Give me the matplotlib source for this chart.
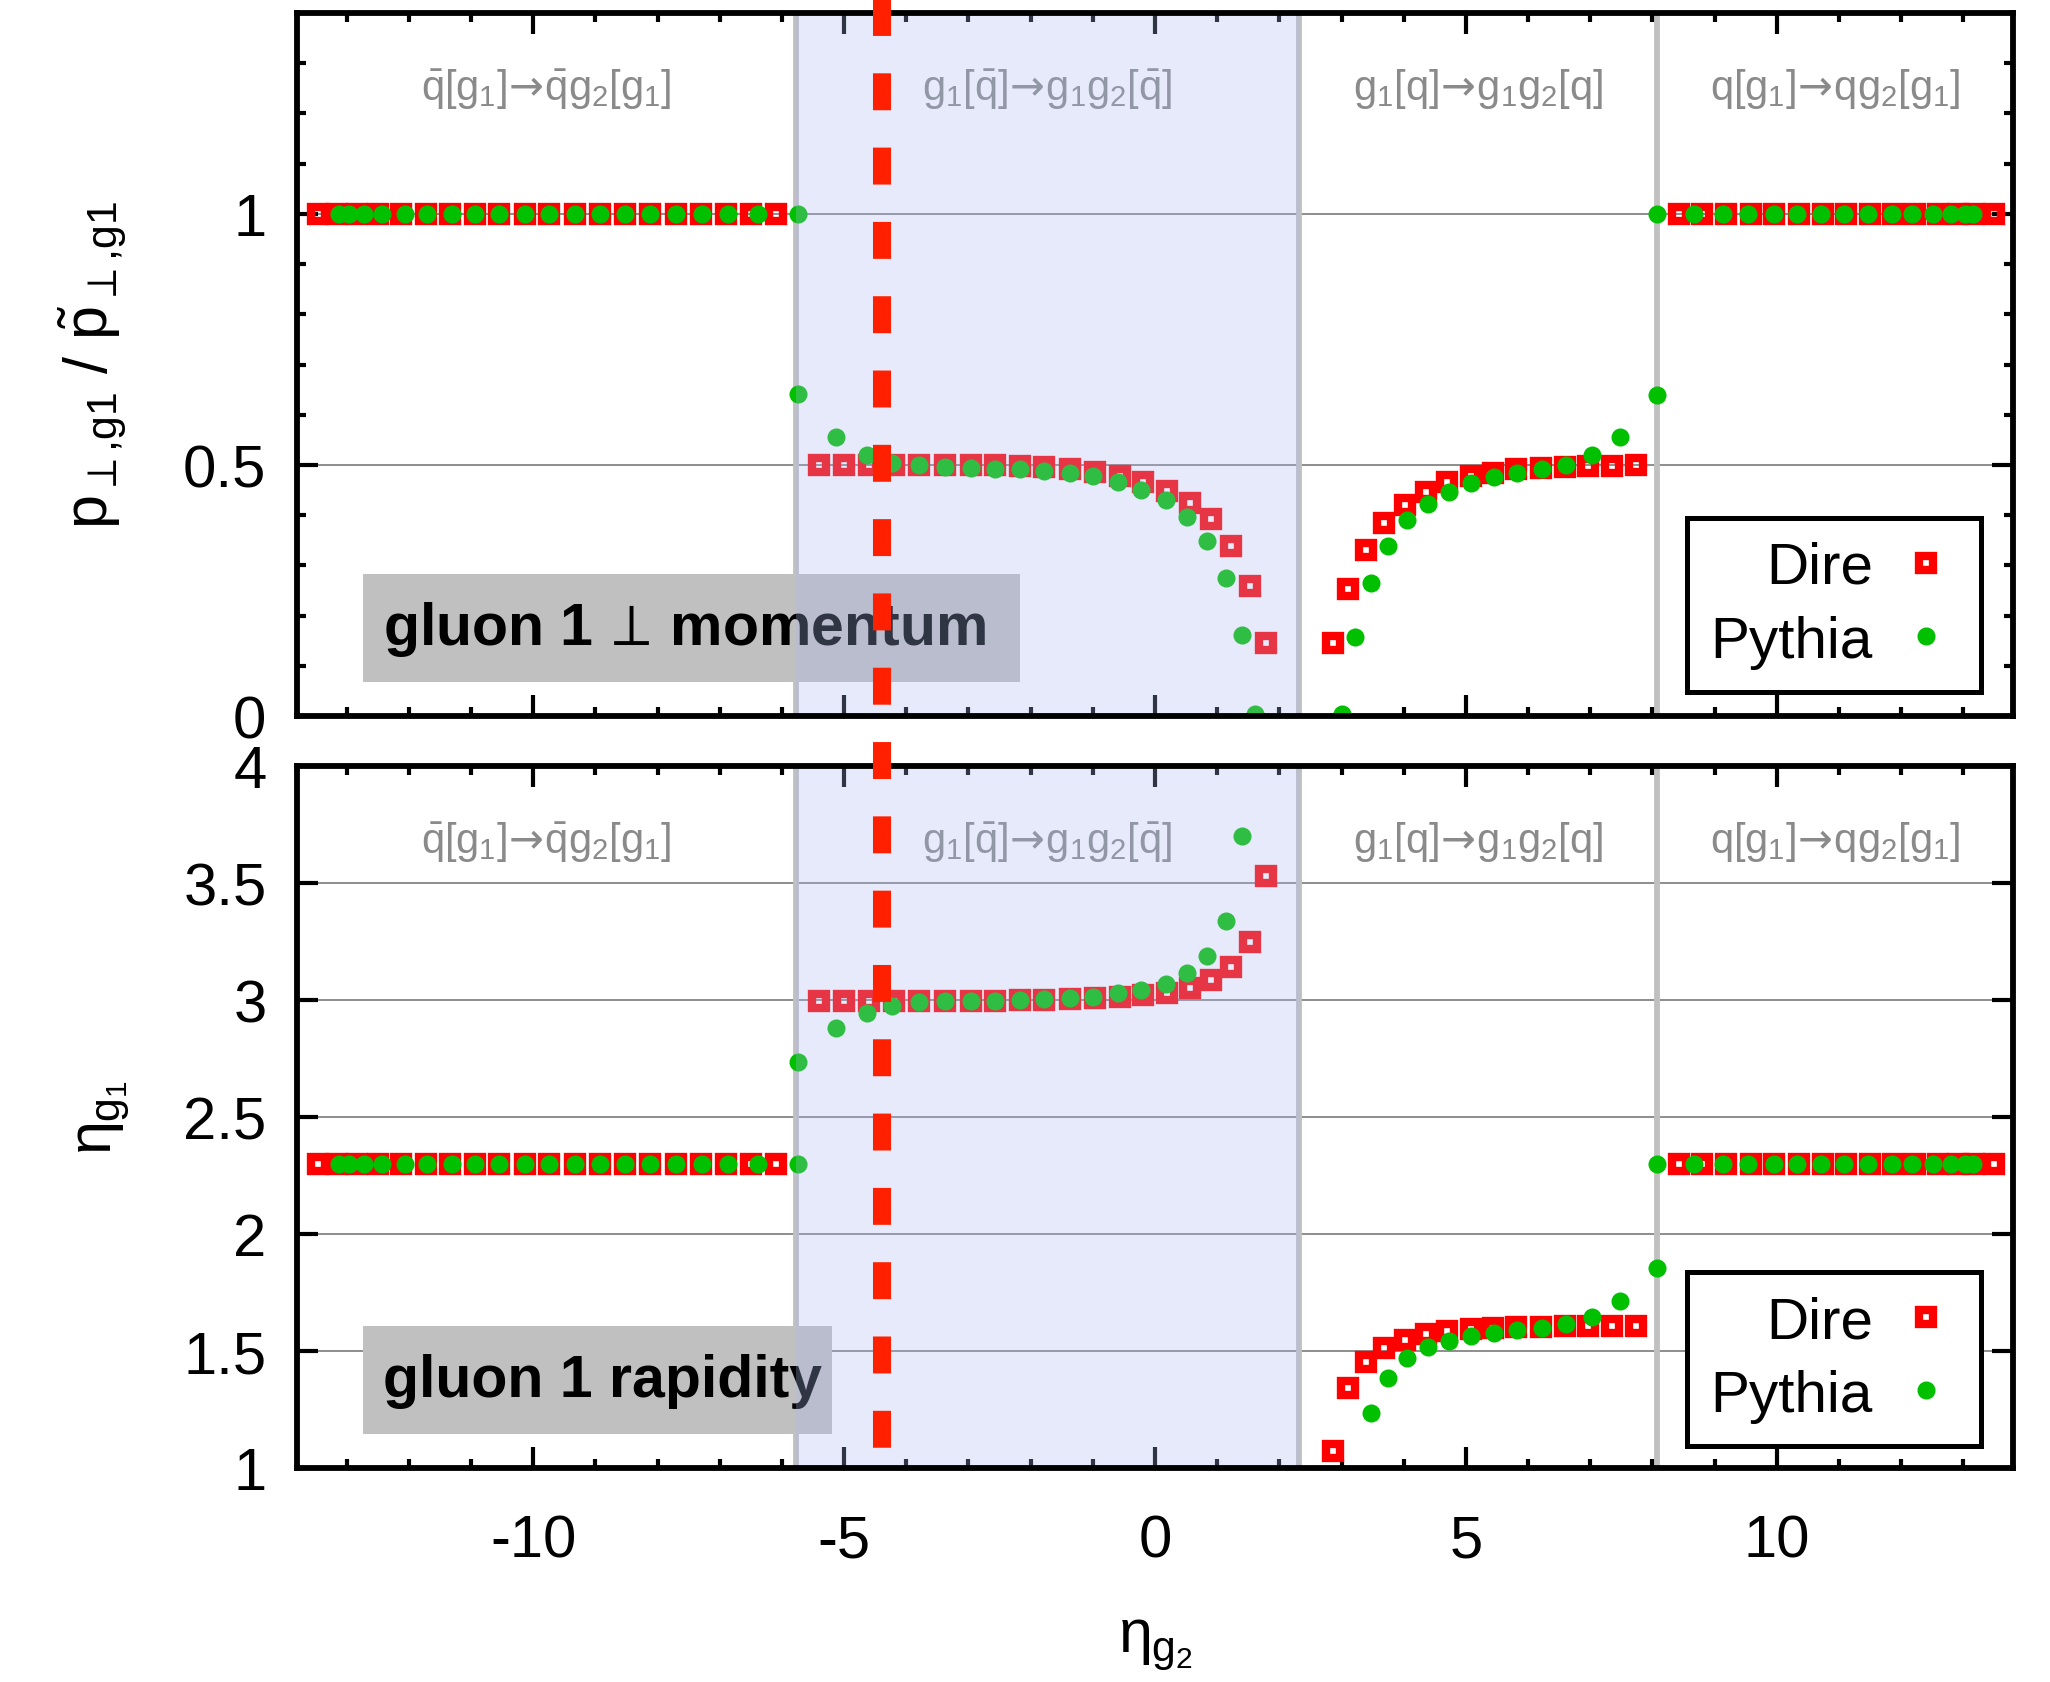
import matplotlib
matplotlib.use("Agg")
import numpy as np
import matplotlib.pyplot as plt
import matplotlib.transforms as mtransforms
from matplotlib.lines import Line2D
from matplotlib.patches import Rectangle
from matplotlib.ticker import FixedLocator, MultipleLocator

plt.rcParams.update({
    "font.family": ["Liberation Sans", "DejaVu Sans"],
    "mathtext.fontset": "custom",
    "mathtext.rm": "Liberation Sans",
    "mathtext.it": "Liberation Sans",
    "mathtext.bf": "Liberation Sans:bold",
    "mathtext.sf": "DejaVu Sans",
    "mathtext.fallback": "stixsans",
    "axes.unicode_minus": False,
    "lines.scale_dashes": False,
})

nan = np.nan

# ---------------- data ----------------
dire_eta2 = [-13.46, -13.16, -12.84, -12.50, -12.12, -11.73, -11.34, -10.94, -10.55, -10.14,
             -9.74, -9.33, -8.93, -8.52, -8.12, -7.71, -7.31, -6.90, -6.49, -6.09,
             -5.41, -5.00, -4.60, -4.19, -3.79, -3.38, -2.96, -2.57, -2.17, -1.78,
             -1.36, -0.96, -0.57, -0.20, 0.20, 0.57, 0.90, 1.22, 1.53, 1.79,
             2.86, 3.11, 3.39, 3.69, 4.02, 4.36, 4.70, 5.08, 5.44, 5.81,
             6.21, 6.59, 6.97, 7.35, 7.73,
             8.43, 8.80, 9.19, 9.58, 9.96, 10.35, 10.74, 11.12, 11.50, 11.87,
             12.23, 12.59, 12.91, 13.18, 13.50]
dire_ratio = [1.0, 1.0, 1.0, 1.0, 1.0, 1.0, 1.0, 1.0, 1.0, 1.0,
              1.0, 1.0, 1.0, 1.0, 1.0, 1.0, 1.0, 1.0, 1.0, 1.0,
              0.499, 0.499, 0.499, 0.499, 0.499, 0.499, 0.499, 0.499, 0.497, 0.495,
              0.491, 0.486, 0.478, 0.466, 0.449, 0.425, 0.392, 0.338, 0.258, 0.145,
              0.145, 0.253, 0.331, 0.385, 0.420, 0.447, 0.466, 0.478, 0.484, 0.491,
              0.494, 0.496, 0.497, 0.498, 0.499,
              1.0, 1.0, 1.0, 1.0, 1.0, 1.0, 1.0, 1.0, 1.0, 1.0,
              1.0, 1.0, 1.0, 1.0, 1.0]
dire_eta1 = [2.3, 2.3, 2.3, 2.3, 2.3, 2.3, 2.3, 2.3, 2.3, 2.3,
             2.3, 2.3, 2.3, 2.3, 2.3, 2.3, 2.3, 2.3, 2.3, 2.3,
             2.995, 2.995, 2.995, 2.997, 2.997, 2.997, 2.997, 2.997, 2.999, 3.001,
             3.004, 3.007, 3.013, 3.020, 3.030, 3.053, 3.084, 3.142, 3.250, 3.529,
             1.071, 1.344, 1.454, 1.514, 1.547, 1.572, 1.584, 1.594, 1.599, 1.603,
             1.603, 1.605, 1.605, 1.605, 1.605,
             2.3, 2.3, 2.3, 2.3, 2.3, 2.3, 2.3, 2.3, 2.3, 2.3,
             2.3, 2.3, 2.3, 2.3, 2.3]

pythia_eta2 = [-13.12, -12.97, -12.73, -12.43, -12.07, -11.71, -11.31, -10.94, -10.55, -10.14,
               -9.74, -9.33, -8.93, -8.52, -8.12, -7.71, -7.29, -6.86, -6.38, -5.75,
               -5.75, -5.13, -4.64, -4.23, -3.79, -3.38, -2.96, -2.57, -2.17, -1.78,
               -1.36, -0.99, -0.59, -0.22, 0.17, 0.51, 0.83, 1.14, 1.40, 1.61,
               3.00, 3.22, 3.47, 3.75, 4.06, 4.39, 4.73, 5.08, 5.45, 5.83,
               6.22, 6.61, 7.03, 7.48, 8.08,
               8.08, 8.67, 9.14, 9.54, 9.95, 10.33, 10.71, 11.08, 11.47, 11.85,
               12.18, 12.52, 12.80, 13.02, 13.15]
pythia_ratio = [1.0, 1.0, 1.0, 1.0, 1.0, 1.0, 1.0, 1.0, 1.0, 1.0,
                1.0, 1.0, 1.0, 1.0, 1.0, 1.0, 1.0, 1.0, 1.0, 1.0,
                0.642, 0.555, 0.520, 0.503, 0.499, 0.496, 0.494, 0.492, 0.491, 0.487,
                0.484, 0.478, 0.466, 0.451, 0.431, 0.397, 0.348, 0.274, 0.162, 0.004,
                0.004, 0.158, 0.265, 0.338, 0.390, 0.423, 0.447, 0.464, 0.475, 0.484,
                0.492, 0.500, 0.519, 0.555, 0.640,
                1.0, 1.0, 1.0, 1.0, 1.0, 1.0, 1.0, 1.0, 1.0, 1.0,
                1.0, 1.0, 1.0, 1.0, 1.0]
pythia_eta1 = [2.3, 2.3, 2.3, 2.3, 2.3, 2.3, 2.3, 2.3, 2.3, 2.3,
               2.3, 2.3, 2.3, 2.3, 2.3, 2.3, 2.3, 2.3, 2.3, 2.3,
               2.736, 2.881, 2.945, 2.976, 2.991, 2.995, 2.997, 2.997, 2.999, 3.003,
               3.007, 3.013, 3.028, 3.042, 3.069, 3.115, 3.189, 3.338, 3.701, nan,
               nan, nan, 1.236, 1.385, 1.468, 1.516, 1.543, 1.564, 1.578, 1.588,
               1.599, 1.615, 1.646, 1.712, 1.853,
               2.3, 2.3, 2.3, 2.3, 2.3, 2.3, 2.3, 2.3, 2.3, 2.3,
               2.3, 2.3, 2.3, 2.3, 2.3]

region_edges = [-5.77, 2.31, 8.08]
highlight_range = (-5.77, 2.31)
split_eta2 = -4.39
region_centers = [-9.79, -1.73, 5.20, 10.94]
ARROW = r"\!\mathsf{\rightarrow}\!"
region_labels = [r"$\bar{q}[g_1]" + ARROW + r"\bar{q}g_2[g_1]$",
                 r"$g_1[\bar{q}]" + ARROW + r"g_1g_2[\bar{q}]$",
                 r"$g_1[q]" + ARROW + r"g_1g_2[q]$",
                 r"$q[g_1]" + ARROW + r"qg_2[g_1]$"]

x_major = [-10, -5, 0, 5, 10]
x_major_labels = ["-10", "-5", "0", "5", "10"]
top_yticks = [0, 0.5, 1]
top_ylabels = ["0", "0.5", "1"]
bot_yticks = [1, 1.5, 2, 2.5, 3, 3.5, 4]
bot_ylabels = ["1", "1.5", "2", "2.5", "3", "3.5", "4"]

# ---------------- figure ----------------
W, H = 2050, 1683
fig = plt.figure(figsize=(W / 100, H / 100), dpi=100)
ax_top = fig.add_axes([297 / W, 1 - 717 / H, 1716 / W, 703 / H])
ax_bot = fig.add_axes([297 / W, 1 - 1469 / H, 1716 / W, 702 / H], sharex=ax_top)

TICK_FS = 43
RED = "#ff0000"
GREEN = "#00c000"


def style_axes(ax, yticks, ylabels, minor_y):
    ax.set_xlim(-13.8, 13.8)
    ax.xaxis.set_major_locator(FixedLocator(x_major))
    ax.xaxis.set_minor_locator(MultipleLocator(1))
    ax.yaxis.set_major_locator(FixedLocator(yticks))
    ax.set_yticklabels(ylabels)
    if minor_y:
        ax.yaxis.set_minor_locator(MultipleLocator(0.1))
    ax.tick_params(which="both", direction="in", top=True, right=True,
                   width=3, color="black", labelsize=TICK_FS)
    ax.tick_params(which="major", length=15)
    ax.tick_params(which="minor", length=6.5)
    ax.tick_params(axis="x", pad=33)
    ax.tick_params(axis="y", pad=22)
    for sp in ax.spines.values():
        sp.set_linewidth(4.2)
        sp.set_zorder(6)
    ax.set_facecolor("white")


style_axes(ax_top, top_yticks, top_ylabels, True)
style_axes(ax_bot, bot_yticks, bot_ylabels, False)
ax_top.set_ylim(0, 1.4)
ax_bot.set_ylim(1, 4)
ax_top.tick_params(axis="x", labelbottom=False)
ax_bot.set_xticklabels(x_major_labels)

# horizontal reference lines and region boundaries
for ax, levels in ((ax_top, [0.5, 1.0]), (ax_bot, [1.5, 2.0, 2.5, 3.0, 3.5])):
    for lv in levels:
        ax.axhline(lv, color="#858585", lw=1.3, zorder=1)
    for xe in region_edges:
        ax.axvline(xe, color="#c0c0c0", lw=4.2, zorder=1.5)

# data points
handles = []
for ax, dire_y, pyth_y in ((ax_top, dire_ratio, pythia_ratio),
                           (ax_bot, dire_eta1, pythia_eta1)):
    hd, = ax.plot(dire_eta2, dire_y, ls="none", marker="s", ms=9.8, mew=6.0,
                  mfc="none", mec=RED, zorder=3)
    hp, = ax.plot(pythia_eta2, pyth_y, ls="none", marker="o", ms=13, mew=0,
                  mfc=GREEN, zorder=3.5)
    handles.append((hd, hp))

# region captions
for ax in (ax_top, ax_bot):
    trans = mtransforms.blended_transform_factory(ax.transData, ax.transAxes)
    for xc, lab in zip(region_centers, region_labels):
        ax.text(xc, 0.893, lab, transform=trans, ha="center", va="center",
                fontsize=30, color="#8a8a8a", zorder=2)

# panel titles in grey boxes
panel_boxes = [(ax_top, r"gluon 1 $\!\perp\!$ momentum", 0.4213 - 0.0385),
               (ax_bot, "gluon 1 rapidity", 0.3118 - 0.0385)]
for ax, title, bw in panel_boxes:
    ax.add_patch(Rectangle((0.0385, 0.048), bw, 0.154, transform=ax.transAxes,
                           facecolor="#c0c0c0", edgecolor="none", zorder=3.8))
    ax.text(0.0501, 0.124, title, transform=ax.transAxes, ha="left", va="center",
            fontsize=42.5, fontweight="bold", color="black", zorder=3.9)

# shaded rapidity window
for ax in (ax_top, ax_bot):
    ax.axvspan(*highlight_range, color="#a9b7ee", alpha=0.29, lw=0, zorder=5)

# legends
for ax, (hd, hp), yb in ((ax_top, handles[0], 0.034), (ax_bot, handles[1], 0.031)):
    leg = ax.legend([hd, hp], ["Dire", "Pythia"], loc="lower right",
                    bbox_to_anchor=(0.9813, yb), borderaxespad=0,
                    markerfirst=False, fancybox=False, framealpha=1,
                    edgecolor="black", facecolor="white", fontsize=42,
                    handlelength=1.09, handletextpad=0.36, borderpad=0.4,
                    labelspacing=0.34, numpoints=1)
    leg.get_frame().set_linewidth(3.6)
    leg.set_zorder(7)

# axis labels
ax_top.set_ylabel(r"$p_{\perp{,}\mathrm{g1}}\ /\ \tilde{p}_{\perp{,}\mathrm{g1}}$", fontsize=44)
ax_top.yaxis.set_label_coords(-0.098, 0.5)
ax_bot.set_ylabel(r"$\eta_{g_1}$", fontsize=44)
ax_bot.yaxis.set_label_coords(-0.096, 0.5)
ax_bot.set_xlabel(r"$\eta_{g_2}$", fontsize=44)
ax_bot.xaxis.set_label_coords(0.5, -0.21)

# dashed marker line spanning both panels
dash_trans = mtransforms.blended_transform_factory(ax_bot.transData, fig.transFigure)
fig.add_artist(Line2D([split_eta2, split_eta2], [1 + 1 / H, 1 - 1469 / H],
                      transform=dash_trans, color="#ff2000", lw=13,
                      dashes=(26.6, 26.9), solid_capstyle="butt",
                      dash_capstyle="butt", zorder=20))

fig.savefig("out.png", dpi=100)
